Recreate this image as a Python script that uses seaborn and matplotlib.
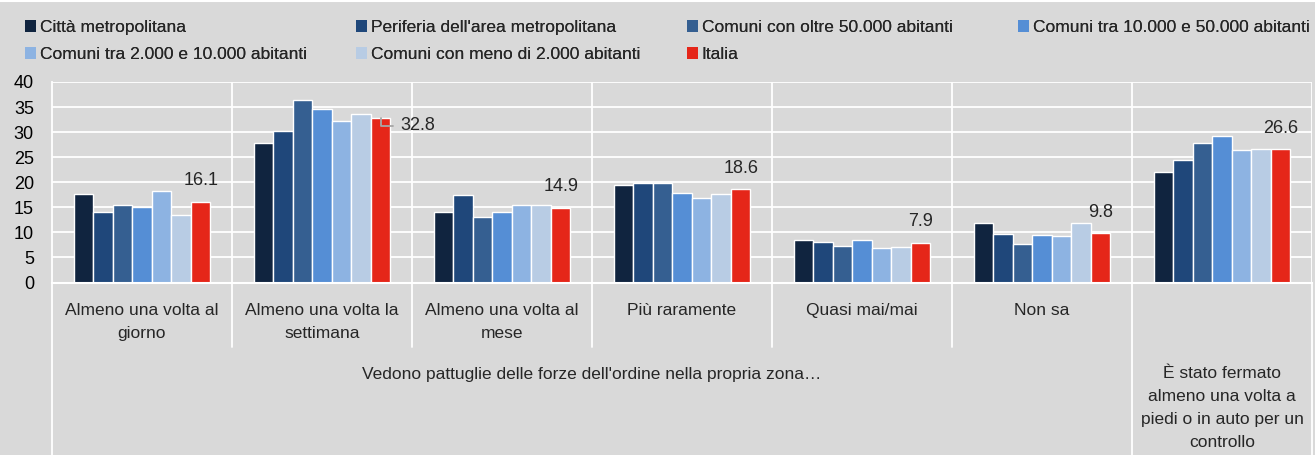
import matplotlib
matplotlib.use("Agg")
import matplotlib.pyplot as plt
import matplotlib.transforms as mtransforms
from matplotlib.patches import Patch
from matplotlib.lines import Line2D
import pandas as pd
import seaborn as sns

# data
categorie = ["Almeno una volta al\ngiorno", "Almeno una volta la\nsettimana",
             "Almeno una volta al\nmese", "Più raramente", "Quasi mai/mai",
             "Non sa", "fermato"]
serie = ["Città metropolitana", "Periferia dell'area metropolitana",
         "Comuni con oltre 50.000 abitanti", "Comuni tra 10.000 e 50.000 abitanti",
         "Comuni tra 2.000 e 10.000 abitanti", "Comuni con meno di 2.000 abitanti",
         "Italia"]
citta = [17.6, 27.9, 14.1, 19.4, 8.5, 11.8, 22.1]
periferia = [14.0, 30.2, 17.5, 19.8, 8.1, 9.7, 24.5]
oltre50 = [15.5, 36.5, 13.0, 19.8, 7.3, 7.6, 27.9]
tra10_50 = [15.0, 34.7, 14.0, 17.9, 8.4, 9.4, 29.3]
tra2_10 = [18.3, 32.3, 15.5, 16.9, 6.8, 9.3, 26.5]
meno2 = [13.5, 33.7, 15.4, 17.7, 7.1, 11.9, 26.7]
italia = [16.1, 32.8, 14.9, 18.6, 7.9, 9.8, 26.6]
gruppo1 = "Vedono pattuglie delle forze dell'ordine nella propria zona…"
gruppo2 = "È stato fermato\nalmeno una volta a\npiedi o in auto per un\ncontrollo"

colori = ["#10243f", "#1f477a", "#355f91", "#558ed5", "#8db3e2", "#b8cce4", "#e52619"]
bg = "#d9d9d9"
fs = 12.5

rows = []
for s, vals in zip(serie, [citta, periferia, oltre50, tra10_50, tra2_10, meno2, italia]):
    for c, v in zip(categorie, vals):
        rows.append({"categoria": c, "serie": s, "valore": v})
df = pd.DataFrame(rows)

sns.set_style("white")
plt.rcParams["font.family"] = ["Liberation Sans", "DejaVu Sans"]

fig = plt.figure(figsize=(13.15, 4.55), dpi=100, facecolor=bg)
ax = fig.add_axes([52 / 1315, 1 - 282.5 / 455, 1260 / 1315, 200.5 / 455])
ax.set_facecolor(bg)

sns.barplot(data=df, x="categoria", y="valore", hue="serie", palette=colori,
            saturation=1, width=0.76, ax=ax, legend=False)

ax.set_xlim(-0.5, 6.5)
ax.set_ylim(0, 40)
ax.set_yticks(range(0, 41, 5))
ax.set_xticks([])
ax.set_xlabel("")
ax.set_ylabel("")
ax.tick_params(axis="y", colors="white", length=6, width=1.2, labelsize=fs + 0.5,
               labelcolor="black", pad=7)
for y in range(5, 41, 5):
    ax.axhline(y, color="white", lw=1.3, zorder=0)
for x in [0.5, 1.5, 2.5, 3.5, 4.5, 5.5, 6.5]:
    ax.axvline(x, color="white", lw=1.3, zorder=0)
for sp in ["top", "right"]:
    ax.spines[sp].set_visible(False)
ax.spines["left"].set_color("white")
ax.spines["left"].set_linewidth(1.3)
ax.spines["bottom"].set_color("white")
ax.spines["bottom"].set_linewidth(1.5)

# labels on Italia bars
bars = ax.containers[6]
etichette = [f"{v:.1f}" for v in italia]
etichette[1] = ""
ax.bar_label(bars, labels=etichette, padding=9, fontsize=fs + 0.5)
b = bars[1]
xc = b.get_x() + b.get_width() / 2
xr = b.get_x() + b.get_width()
ax.plot([xc, xc, xr + 0.015], [italia[1], 31.3, 31.3], color="#a6a6a6", lw=1.3)
ax.text(xr + 0.055, 31.3, f"{italia[1]:.1f}", fontsize=fs + 0.5, va="center", ha="left")

# category area below the axis
tr = mtransforms.blended_transform_factory(ax.transData, fig.transFigure)
def fy(py):
    return 1 - py / 455
for x in [0.5, 1.5, 2.5, 3.5, 4.5]:
    ax.plot([x, x], [fy(283), fy(347)], color="white", lw=1.3, transform=tr, clip_on=False)
for x in [-0.5, 5.5, 6.5]:
    ax.plot([x, x], [fy(283), fy(455)], color="white", lw=1.3, transform=tr, clip_on=False)
for i, c in enumerate(categorie[:6]):
    ax.text(i, fy(303), c, transform=tr, ha="center", va="top", fontsize=fs,
            linespacing=1.68)
ax.text(2.5, fy(374), gruppo1, transform=tr, ha="center", va="center", fontsize=fs)
ax.text(6, fy(366), gruppo2, transform=tr, ha="center", va="top", fontsize=fs,
        linespacing=1.68)

# legend, one block per column as in the reference
handles = [Patch(facecolor=c, edgecolor="none") for c in colori]
colonne = [([0, 4], 25), ([1, 5], 356), ([2, 6], 687), ([3], 1018)]
for idx, px in colonne:
    leg = fig.legend([handles[i] for i in idx], [serie[i] for i in idx],
                     loc="upper left", bbox_to_anchor=(px / 1315, 1 - 20 / 455),
                     frameon=False, fontsize=fs, handlelength=0.65, handleheight=0.65,
                     handletextpad=0.2, labelspacing=0.68, borderaxespad=0,
                     borderpad=0)
    fig.add_artist(leg)

fig.add_artist(Line2D([0, 1], [1 - 1 / 455, 1 - 1 / 455], color="white", lw=1.5,
                      transform=fig.transFigure))

fig.savefig("out.png", dpi=100, facecolor=bg)
